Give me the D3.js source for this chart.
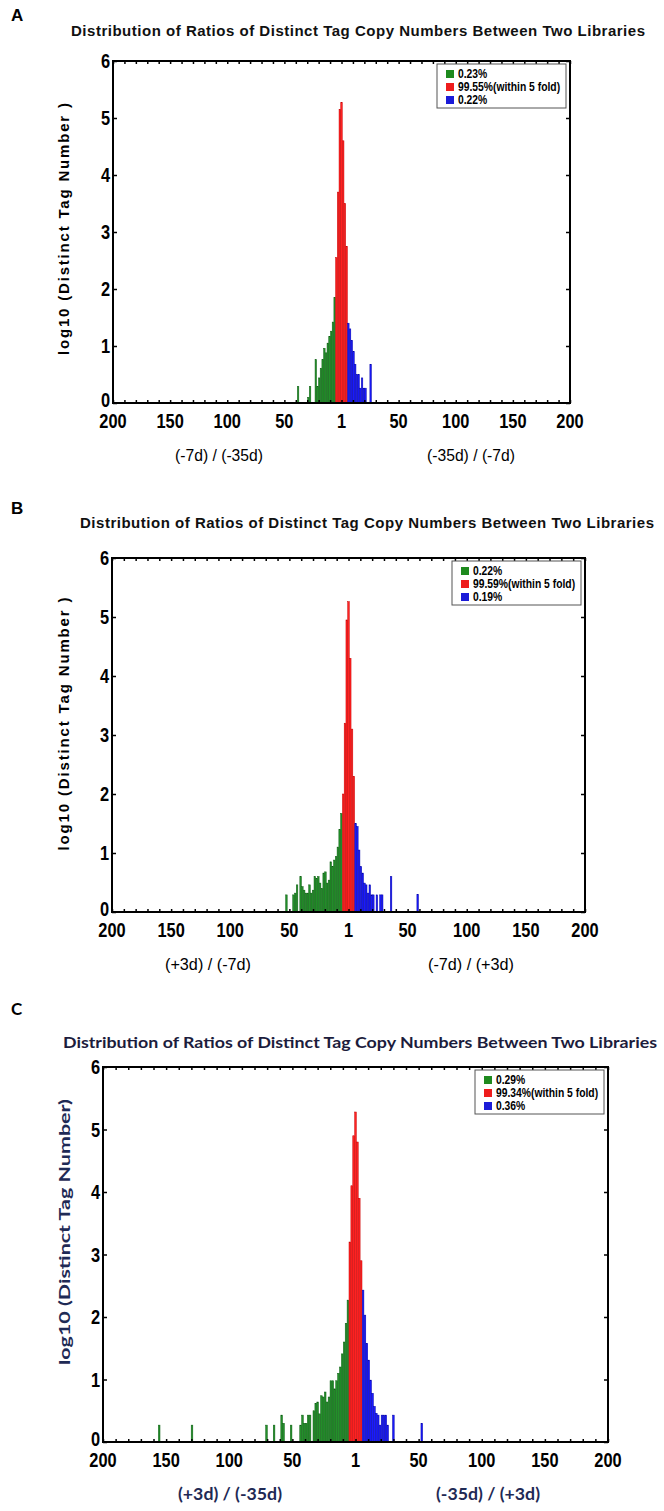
<!DOCTYPE html>
<html>
<head>
<meta charset="utf-8">
<style>
body { margin: 0; background: #fff; }
</style>
</head>
<body>
<svg width="664" height="1511"></svg>
<script src="https://cdn.jsdelivr.net/npm/d3@7"></script>
<script>
// shared axis values
var xTickVals = [-200, -150, -100, -50, 0, 50, 100, 150, 200];
var xTickText = ["200", "150", "100", "50", "1", "50", "100", "150", "200"];
var yTickVals = [0, 1, 2, 3, 4, 5, 6];
var titleText = "Distribution of Ratios of Distinct Tag Copy Numbers Between  Two Libraries";

// panel A : [fold position (left side negative), log10 count]
var aGreen = [[-38, 0.29], [-29, 0.1], [-27.5, 0.29], [-22.5, 0.76], [-21, 0.29], [-19.5, 0.44],
  [-18, 0.61], [-16.5, 0.76], [-15, 0.96], [-13.5, 0.88], [-12, 1.05], [-10.5, 1.17], [-9, 1.26],
  [-7.5, 1.42], [-6, 1.85]];
var aRed = [[-4.5, 2.55], [-3, 3.7], [-1.5, 5.15], [0, 5.27], [1.5, 4.6], [3, 3.5], [4.5, 2.75]];
var aBlue = [[6, 1.4], [7.5, 1.3], [9, 1.1], [10.5, 0.9], [12, 0.68], [13.5, 0.5], [15, 0.5],
  [16.5, 0.26], [18, 0.44], [19.5, 0.26], [21, 0.26], [25.5, 0.68]];
var aLegend = ["0.23%", "99.55%(within 5 fold)", "0.22%"];

// panel B
var bGreen = [[-52.5, 0.29], [-46.5, 0.29], [-45, 0.32], [-43.5, 0.46], [-40.5, 0.6], [-39, 0.43],
  [-37.5, 0.37], [-36, 0.32], [-34.5, 0.32], [-33, 0.46], [-31.5, 0.32], [-30, 0.37], [-28.5, 0.6],
  [-27, 0.57], [-25.5, 0.6], [-24, 0.49], [-22.5, 0.4], [-21, 0.66], [-19.5, 0.68], [-18, 0.49],
  [-16.5, 0.54], [-15, 0.85], [-13.5, 0.77], [-12, 0.88], [-10.5, 0.94], [-9, 1.1], [-7.5, 1.4],
  [-6, 1.67]];
var bRed = [[-4.5, 2.0], [-3, 3.2], [-1.5, 4.95], [0, 5.26], [1.5, 4.3], [3, 3.1], [4.5, 2.3]];
var bBlue = [[6, 1.5], [7.5, 1.45], [9, 1.05], [10.5, 0.77], [12, 0.66], [13.5, 0.49], [15, 0.46],
  [16.5, 0.32], [18, 0.46], [19.5, 0.29], [21, 0.29], [24, 0.29], [27, 0.29], [28.5, 0.29],
  [36, 0.6], [58.5, 0.3]];
var bLegend = ["0.22%", "99.59%(within 5 fold)", "0.19%"];

// panel C
var cGreen = [[-155.5, 0.27], [-129.5, 0.27], [-70.5, 0.27], [-64.5, 0.27], [-58.5, 0.43], [-57, 0.3],
  [-51, 0.27], [-43.5, 0.27], [-42, 0.43], [-40.5, 0.3], [-39, 0.3], [-37.5, 0.43], [-36, 0.43],
  [-33, 0.5], [-31.5, 0.62], [-30, 0.64], [-28.5, 0.45], [-27, 0.74], [-25.5, 0.72], [-24, 0.8],
  [-22.5, 0.64], [-21, 0.72], [-19.5, 0.98], [-18, 0.98], [-16.5, 0.85], [-15, 0.98], [-13.5, 1.1],
  [-12, 1.2], [-10.5, 1.41], [-9, 1.6], [-7.5, 1.9], [-6, 2.27]];
var cRed = [[-4.5, 3.2], [-3, 4.1], [-1.5, 4.9], [0, 5.28], [1.5, 4.8], [3, 3.9], [4.5, 2.9]];
var cBlue = [[6, 2.43], [7.5, 2.03], [9, 1.58], [10.5, 1.31], [12, 0.99], [13.5, 0.78], [15, 0.57],
  [16.5, 0.46], [18, 0.43], [19.5, 0.27], [21, 0.43], [22.5, 0.43], [24, 0.43], [25.5, 0.27],
  [30, 0.43], [52.5, 0.3]];
var cLegend = ["0.29%", "99.34%(within 5 fold)", "0.36%"];

var panels = [
  {id: "A", green: aGreen, red: aRed, blue: aBlue, legend: aLegend,
   subL: "(-7d) / (-35d)", subR: "(-35d) / (-7d)", ylab: "log10 (Distinct  Tag Number )"},
  {id: "B", green: bGreen, red: bRed, blue: bBlue, legend: bLegend,
   subL: "(+3d) / (-7d)", subR: "(-7d) / (+3d)", ylab: "log10 (Distinct  Tag Number )"},
  {id: "C", green: cGreen, red: cRed, blue: cBlue, legend: cLegend,
   subL: "(+3d) / (-35d)", subR: "(-35d) / (+3d)", ylab: "log10 (Distinct Tag Number)"}
];

var arial = "'Liberation Sans', Arial, sans-serif";
var lato = "Lato, 'Open Sans', sans-serif";

// page geometry of each panel
var layout = [
  {lx: 11, ly: 21, tx: 358, ty: 36, tlen: 574, tadj: "spacing", l: 113, r: 570, t: 61, b: 403,
   subL: 219, subR: 471, subLen: 88, ylx: 69, yly: 229, ylen: 252,
   tfont: arial, tsize: 15, tcol: "#111", sfont: arial, sweight: "normal", scol: "#000", ycol: "#000"},
  {lx: 11, ly: 514, tx: 367, ty: 528, tlen: 574, tadj: "spacing", l: 112, r: 585, t: 558, b: 912,
   subL: 208, subR: 471, subLen: 86, ylx: 69, yly: 724, ylen: 253,
   tfont: arial, tsize: 15, tcol: "#111", sfont: arial, sweight: "normal", scol: "#000", ycol: "#000"},
  {lx: 11, ly: 1015, tx: 360, ty: 1048, tlen: 594, tadj: "spacingAndGlyphs", l: 103, r: 608, t: 1067, b: 1442,
   subL: 230, subR: 488, subLen: 104, ylx: 70, yly: 1232, ylen: 266,
   tfont: lato, tsize: 16, tcol: "#1c1c3c", sfont: lato, sweight: "bold", scol: "#1f2a55", ycol: "#1f2a55"}
];

var colors = {
  green: {fill: "#23902a", stroke: "#0b5e10"},
  red: {fill: "#ff2222", stroke: "#c80000"},
  blue: {fill: "#1a1aff", stroke: "#0000a8"}
};
var legendColors = ["#1e8a1e", "#ee1c1c", "#1b1bd8"];

var svg = d3.select("svg");

// squeeze glyphs horizontally, imitating a narrow face
function narrow(sel, f) {
  sel.each(function() {
    var w = this.getComputedTextLength();
    d3.select(this).attr("textLength", w * f).attr("lengthAdjust", "spacingAndGlyphs");
  });
}

panels.forEach(function(p, i) {
  var L = layout[i];
  var g = svg.append("g");

  var x = d3.scaleLinear().domain([-200, 200]).range([L.l, L.r]);
  var y = d3.scaleLinear().domain([0, 6]).range([L.b, L.t]);
  var bw = x(1.3) - x(0);

  // panel letter
  g.append("text").attr("x", L.lx).attr("y", L.ly)
    .style("font-family", i === 2 ? lato : arial)
    .style("font-weight", "bold").style("font-size", "17px").text(p.id);

  // title
  g.append("text").attr("x", L.tx).attr("y", L.ty)
    .attr("text-anchor", "middle")
    .attr("textLength", L.tlen).attr("lengthAdjust", L.tadj)
    .style("font-family", L.tfont).style("font-weight", "bold")
    .style("font-size", L.tsize + "px").style("fill", L.tcol)
    .text(titleText);

  // bars
  ["green", "red", "blue"].forEach(function(k) {
    g.append("g").selectAll("rect").data(p[k]).enter().append("rect")
      .attr("x", function(d) { return x(d[0]) - bw / 2; })
      .attr("width", bw)
      .attr("y", function(d) { return y(d[1]); })
      .attr("height", function(d) { return y(0) - y(d[1]); })
      .attr("fill", colors[k].fill)
      .attr("stroke", colors[k].stroke)
      .attr("stroke-width", 0.5);
  });

  // ticks every 10 along x (top and bottom, inward)
  var minor = d3.range(-200, 201, 10);
  g.append("g").attr("transform", "translate(0," + L.b + ")")
    .call(d3.axisTop(x).tickValues(minor).tickFormat("").tickSize(3).tickSizeOuter(0))
    .call(function(s) { s.select(".domain").remove(); s.selectAll("line").attr("stroke-width", 1.5); });
  g.append("g").attr("transform", "translate(0," + L.t + ")")
    .call(d3.axisBottom(x).tickValues(minor).tickFormat("").tickSize(3).tickSizeOuter(0))
    .call(function(s) { s.select(".domain").remove(); s.selectAll("line").attr("stroke-width", 1.5); });

  // y ticks left and right, inward
  g.append("g").attr("transform", "translate(" + L.l + ",0)")
    .call(d3.axisRight(y).tickValues(yTickVals).tickFormat("").tickSize(4))
    .call(function(s) { s.select(".domain").remove(); s.selectAll("line").attr("stroke-width", 1.5); });
  g.append("g").attr("transform", "translate(" + L.r + ",0)")
    .call(d3.axisLeft(y).tickValues(yTickVals).tickFormat("").tickSize(4))
    .call(function(s) { s.select(".domain").remove(); s.selectAll("line").attr("stroke-width", 1.5); });

  // frame
  g.append("rect").attr("x", L.l).attr("y", L.t)
    .attr("width", L.r - L.l).attr("height", L.b - L.t)
    .attr("fill", "none").attr("stroke", "#000").attr("stroke-width", 2);

  // y tick labels
  g.append("g").selectAll("text").data(yTickVals).enter().append("text")
    .attr("x", L.l - 3).attr("y", function(d) { return y(d) - (d === 0 ? 3 : 0); })
    .attr("dy", "0.36em").attr("text-anchor", "end")
    .style("font-family", arial).style("font-weight", "bold").style("font-size", "20px")
    .text(function(d) { return d; })
    .call(narrow, 0.82);

  // x tick labels
  g.append("g").selectAll("text").data(xTickVals).enter().append("text")
    .attr("x", function(d) { return x(d); }).attr("y", L.b + 25)
    .attr("text-anchor", "middle")
    .style("font-family", arial).style("font-weight", "bold").style("font-size", "21px")
    .text(function(d, j) { return xTickText[j]; })
    .call(narrow, 0.78);

  // y axis title
  g.append("text")
    .attr("transform", "translate(" + L.ylx + "," + L.yly + ") rotate(-90)")
    .attr("text-anchor", "middle")
    .attr("textLength", L.ylen).attr("lengthAdjust", i === 2 ? "spacingAndGlyphs" : "spacing")
    .style("font-family", i === 2 ? lato : arial).style("font-weight", "bold")
    .style("font-size", i === 2 ? "16px" : "15px").style("fill", L.ycol)
    .text(p.ylab);

  // ratio labels under axis
  [[L.subL, p.subL], [L.subR, p.subR]].forEach(function(s) {
    g.append("text").attr("x", s[0]).attr("y", L.b + 58)
      .attr("text-anchor", "middle")
      .attr("textLength", L.subLen).attr("lengthAdjust", "spacingAndGlyphs")
      .style("font-family", L.sfont).style("font-weight", L.sweight)
      .style("font-size", "17px").style("fill", L.scol)
      .text(s[1]);
  });

  // legend
  var lg = g.append("g").attr("transform", "translate(" + (L.r - 133) + "," + (L.t + 3) + ")");
  lg.append("rect").attr("width", 129).attr("height", 44)
    .attr("fill", "#fff").attr("stroke", "#555").attr("stroke-width", 1);
  p.legend.forEach(function(t, j) {
    lg.append("rect").attr("x", 9).attr("y", 6 + j * 13).attr("width", 8).attr("height", 8)
      .attr("fill", legendColors[j]);
    lg.append("text").attr("x", 21).attr("y", 14 + j * 13)
      .style("font-family", arial).style("font-weight", "bold").style("font-size", "12px")
      .text(t)
      .call(narrow, 0.86);
  });
});
</script>
</body>
</html>
